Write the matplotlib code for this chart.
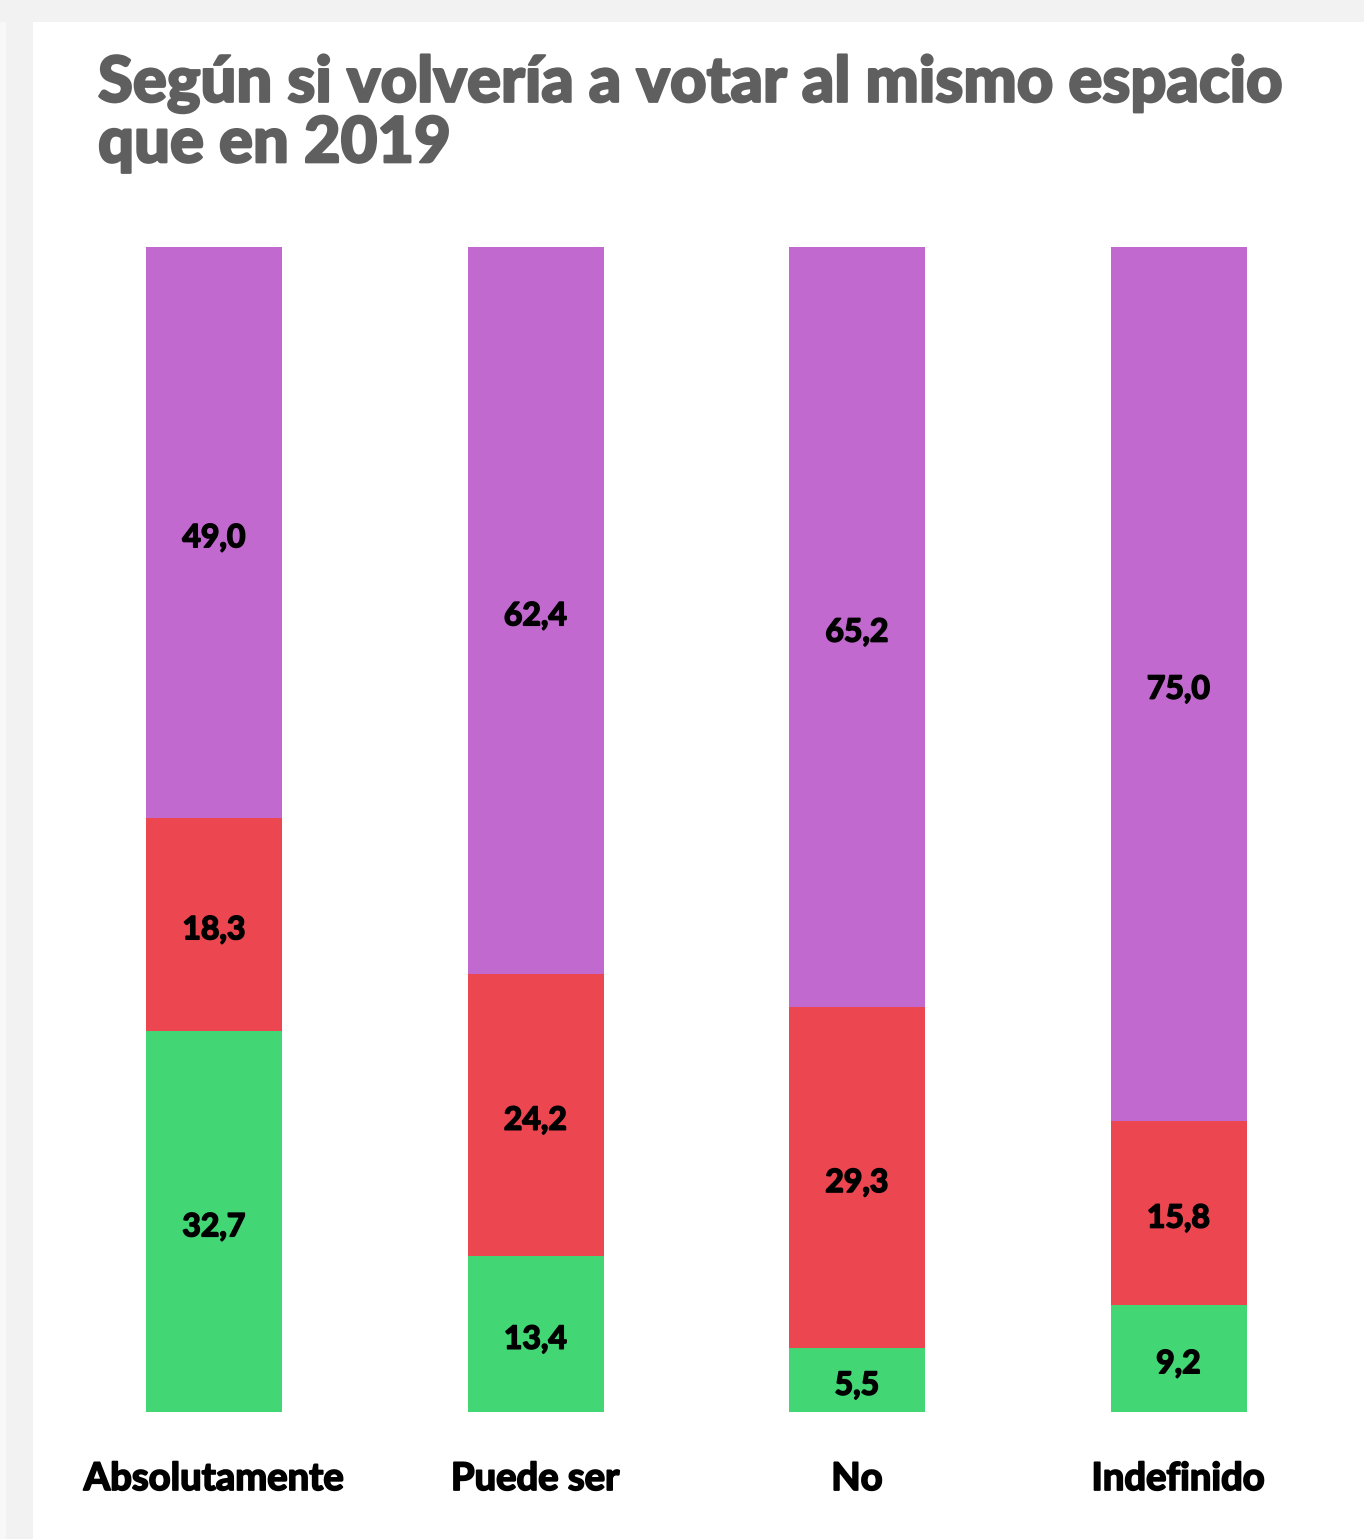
import matplotlib.pyplot as plt
import matplotlib.patheffects as pe
from matplotlib.patches import Rectangle

categories = ["Absolutamente", "Puede ser", "No", "Indefinido"]
verde = [32.7, 13.4, 5.5, 9.2]
rojo = [18.3, 24.2, 29.3, 15.8]
violeta = [49.0, 62.4, 65.2, 75.0]

W, H = 1364, 1539
fig = plt.figure(figsize=(W / 100, H / 100), dpi=100)
fig.patch.set_facecolor("#f2f2f2")
# tarjeta blanca
bg = fig.add_axes([0, 0, 1, 1], zorder=0)
bg.add_patch(Rectangle((33 / W, 0), 1, (H - 22) / H, facecolor="white", edgecolor="none"))
bg.add_patch(Rectangle((0, 0), 6 / W, (H - 22) / H, facecolor="#f8f8f8", edgecolor="none"))
bg.set_xlim(0, 1)
bg.set_ylim(0, 1)
bg.axis("off")

def gordo(color, lw=1.4):
    # engrosar un poco el trazo de Lato Bold
    return [pe.withStroke(linewidth=lw, foreground=color)]

ax = fig.add_axes([53.25 / W, (H - 1412) / H, 1286 / W, 1165 / H], zorder=2)
ax.set_facecolor("none")
x = list(range(len(categories)))
w = 136 / 321.5

segs = [(verde, "#42d675"), (rojo, "#ec4750"), (violeta, "#c269cf")]
bottom = [0.0] * len(categories)
for vals, col in segs:
    ax.bar(x, vals, width=w, bottom=bottom, color=col, edgecolor="none")
    for i, v in enumerate(vals):
        ax.text(x[i], bottom[i] + v / 2 - 0.45, f"{v:.1f}".replace(".", ","),
                ha="center", va="center", fontsize=23, fontweight="bold",
                family="Lato", color="black", path_effects=gordo("black", 1.2))
    bottom = [b + v for b, v in zip(bottom, vals)]

ax.set_xlim(-0.5, 3.5)
ax.set_ylim(0, 100)
ax.axis("off")

for i, c in enumerate(categories):
    ax.text(x[i], -5.75, c, ha="center", va="center", fontsize=27.5,
            fontweight="bold", family="Lato", color="black",
            path_effects=gordo("black", 1.3))

fig.text(98 / W, (H - 114) / H, "Según si volvería a votar al mismo espacio\nque en 2019",
         ha="left", va="center", fontsize=45.6, fontweight="black", family="Lato",
         color="#5f5f5f", linespacing=1.02, path_effects=gordo("#5f5f5f", 1.6))

fig.savefig("out.png", dpi=100)
